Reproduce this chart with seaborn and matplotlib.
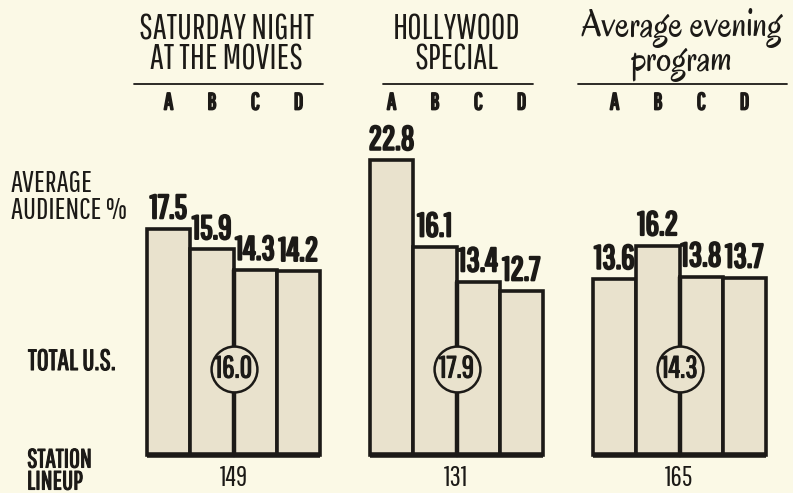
import matplotlib
matplotlib.use("Agg")
import matplotlib.pyplot as plt
import matplotlib.patheffects as pe
import seaborn as sns
import pandas as pd
from matplotlib import font_manager

# ---- data ----
groups = ["SATURDAY NIGHT\nAT THE MOVIES", "HOLLYWOOD\nSPECIAL", "Average evening\nprogram"]
stations = ["A", "B", "C", "D"]
saturday_night = [17.5, 15.9, 14.3, 14.2]
hollywood_special = [22.8, 16.1, 13.4, 12.7]
average_evening = [13.6, 16.2, 13.8, 13.7]
total_us = [16.0, 17.9, 14.3]
station_lineup = [149, 131, 165]

series = [saturday_night, hollywood_special, average_evening]

# ---- fonts ----
names = {f.name for f in font_manager.fontManager.ttflist}


def pick(cands):
    for c in cands:
        if c in names:
            return c
    return "DejaVu Sans"


COND = pick(["Pathway Gothic One", "Oswald", "League Gothic", "Antonio",
             "Roboto Condensed", "Archivo Narrow", "PT Sans Narrow", "Abel"])
SCRIPT = pick(["Oregano", "Courgette", "Kalam", "DejaVu Serif"])

# ---- style ----
BG = "#fbf9e6"
BAR = "#e9e2cd"
INK = "#1c1a17"

sns.set_theme(style="white")
plt.rcParams["font.family"] = [COND, "DejaVu Sans"]


def heavy(w):
    return [pe.withStroke(linewidth=w, foreground=INK)]


W, H = 793, 493
fig = plt.figure(figsize=(W / 100, H / 100), dpi=100, facecolor=BG)
ax = fig.add_axes([0, 0, 1, 1])
ax.set_facecolor(BG)

GROUP_STEP = 5.15
rows = []
for g, vals in enumerate(series):
    for i, (s, v) in enumerate(zip(stations, vals)):
        rows.append({"group": g, "station": s, "pos": g * GROUP_STEP + i, "value": v})
df = pd.DataFrame(rows)

sns.barplot(data=df, x="pos", y="value", native_scale=True, width=1.0,
            color=BAR, saturation=1, edgecolor=INK, linewidth=2.6, ax=ax, zorder=2)

# pixel mapping
PX_UNIT = 43.3
X0 = 168.6
Y0 = 455
PY = 12.93
ax.set_xlim(-X0 / PX_UNIT, (W - X0) / PX_UNIT)
ax.set_ylim(-(H - Y0) / PY, Y0 / PY)
ax.axis("off")


def fpx(x, y):
    return (x / W, 1 - y / H)


def ypx(y):
    return (Y0 - y) / PY


# value labels
for _, r in df.iterrows():
    ax.text(r["pos"], r["value"] + 0.35, f"{r['value']:.1f}", ha="center", va="bottom",
            fontsize=24, color=INK, zorder=4, path_effects=heavy(1.6))

for g in range(3):
    left = g * GROUP_STEP - 0.5
    right = g * GROUP_STEP + 3.5
    center = g * GROUP_STEP + 1.5
    vals = series[g]
    # baseline
    ax.plot([left, right], [0, 0], color=INK, lw=4, solid_capstyle="butt", zorder=3)
    # center divider
    ax.plot([center, center], [0, min(vals[1], vals[2])], color=INK, lw=3.2, zorder=3)
    # circle with total U.S.
    cy = ypx(369)
    ax.plot([center], [cy], marker="o", markersize=33, markerfacecolor=BAR,
            markeredgecolor=INK, markeredgewidth=1.8, zorder=5)
    ax.text(center, cy, f"{total_us[g]:.1f}", ha="center", va="center",
            fontsize=22, color=INK, zorder=6, path_effects=heavy(0.9))
    # station lineup
    ax.text(center, ypx(478), f"{station_lineup[g]}", ha="center", va="center",
            fontsize=20, color=INK)
    # station letters
    for i, s in enumerate(stations):
        ax.text(g * GROUP_STEP + i, ypx(103), s, ha="center", va="center",
                fontsize=17, color=INK, path_effects=heavy(1.3))

# header underlines (pixel extents)
lines_px = [(134, 323), (383, 533), (578, 787)]
for (a, b) in lines_px:
    ax.plot([(a - X0) / PX_UNIT, (b - X0) / PX_UNIT], [ypx(84)] * 2, color=INK, lw=1.3)

# header text
header_dx = [-7, 0, 0]
for g in range(3):
    center = g * GROUP_STEP + 1.5 + header_dx[g] / PX_UNIT
    if g < 2:
        ax.text(center, ypx(44), groups[g], ha="center", va="center",
                fontsize=25, color=INK, linespacing=0.92)
    else:
        ax.text(center + 0.05, ypx(45), groups[g], ha="center", va="center",
                fontsize=27, color=INK, family=[SCRIPT, "DejaVu Serif"],
                style="italic" if SCRIPT == "DejaVu Serif" else "normal",
                linespacing=0.82)

# left labels
fig.text(*fpx(11, 197), "AVERAGE\nAUDIENCE %", ha="left", va="center", fontsize=22,
         color=INK, linespacing=0.92)
fig.text(*fpx(28, 362), "TOTAL U.S.", ha="left", va="center", fontsize=21,
         color=INK, path_effects=heavy(0.8))
fig.text(*fpx(27, 471), "STATION\nLINEUP", ha="left", va="center", fontsize=19,
         color=INK, linespacing=0.85, path_effects=heavy(0.8))

fig.savefig("out.png", dpi=100, facecolor=BG)
